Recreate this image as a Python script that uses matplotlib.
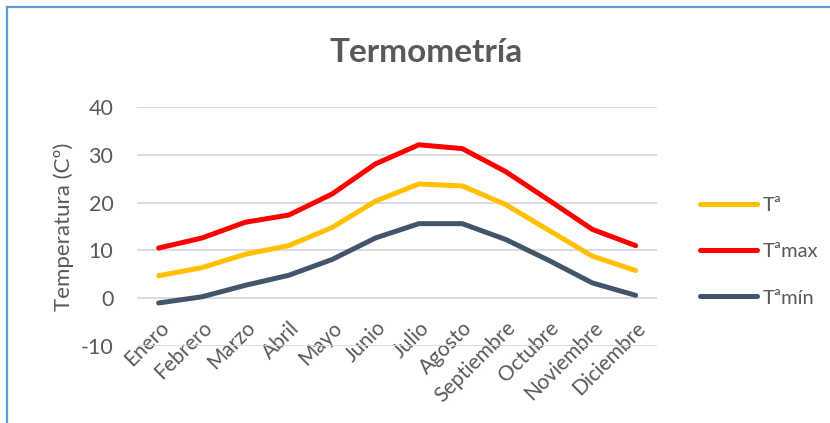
import matplotlib.pyplot as plt
from matplotlib.lines import Line2D

# Monthly temperatures (ºC)
meses = ['Enero', 'Febrero', 'Marzo', 'Abril', 'Mayo', 'Junio', 'Julio',
         'Agosto', 'Septiembre', 'Octubre', 'Noviembre', 'Diciembre']
t_media = [4.7, 6.4, 9.2, 11.0, 14.8, 20.3, 23.9, 23.5, 19.6, 14.2, 8.8, 5.8]
t_max = [10.5, 12.6, 15.9, 17.4, 21.8, 28.1, 32.1, 31.3, 26.5, 20.5, 14.4, 11.0]
t_min = [-1.0, 0.3, 2.7, 4.8, 8.1, 12.6, 15.6, 15.6, 12.3, 7.9, 3.2, 0.6]

gris = '#595959'
plt.rcParams['font.family'] = ['Lato', 'DejaVu Sans']
plt.rcParams['axes.unicode_minus'] = False

fig = plt.figure(figsize=(8.3, 4.23), dpi=100)
ax = fig.add_axes([0.165, 0.182, 0.627, 0.565])

x = range(len(meses))
ax.plot(x, t_media, color='#FFC000', lw=3.6, solid_capstyle='round', label='Tª', zorder=3)
ax.plot(x, t_max, color='#FF0000', lw=3.6, solid_capstyle='round', label='Tªmax', zorder=3)
ax.plot(x, t_min, color='#44546A', lw=3.6, solid_capstyle='round', label='Tªmín', zorder=3)

# category axis crosses at 0, so the month labels sit under the zero line
ax.spines['bottom'].set_position(('data', 0))

ax.set_xlim(-0.5, len(meses) - 0.5)
ax.set_ylim(-10, 40)
ax.set_yticks(range(-10, 41, 10))
ax.set_xticks(list(x))
ax.set_xticklabels(meses, rotation=45, ha='right', rotation_mode='anchor')
ax.tick_params(axis='x', length=0, pad=14, labelsize=15, labelcolor=gris)
ax.tick_params(axis='y', length=0, pad=17, labelsize=15.5, labelcolor=gris)
ax.grid(axis='y', color='#D9D9D9', lw=1.3)
ax.set_axisbelow(True)
for s in ax.spines.values():
    s.set_visible(False)

ax.set_ylabel('Temperatura (Cº)', fontsize=16, color=gris, labelpad=5)

fig.text(0.514, 0.875, 'Termometría', ha='center', va='center',
         fontsize=24, fontweight='bold', color=gris)

handles = [Line2D([], [], color=c, lw=3.6, solid_capstyle='round')
           for c in ['#FFC000', '#FF0000', '#44546A']]
leg = fig.legend(handles, ['Tª', 'Tªmax', 'Tªmín'], loc='center left',
                 bbox_to_anchor=(0.822, 0.405), frameon=False, fontsize=14.5,
                 handlelength=2.8, handletextpad=0.3, labelspacing=1.45)
for t in leg.get_texts():
    t.set_color(gris)

# blue frame on top and left edges
fig.add_artist(Line2D([0.009, 1.0], [0.983, 0.983], color='#5B9BD5', lw=1.6))
fig.add_artist(Line2D([0.009, 0.009], [0.0, 0.983], color='#5B9BD5', lw=1.6))

fig.savefig('out.png', dpi=100)
